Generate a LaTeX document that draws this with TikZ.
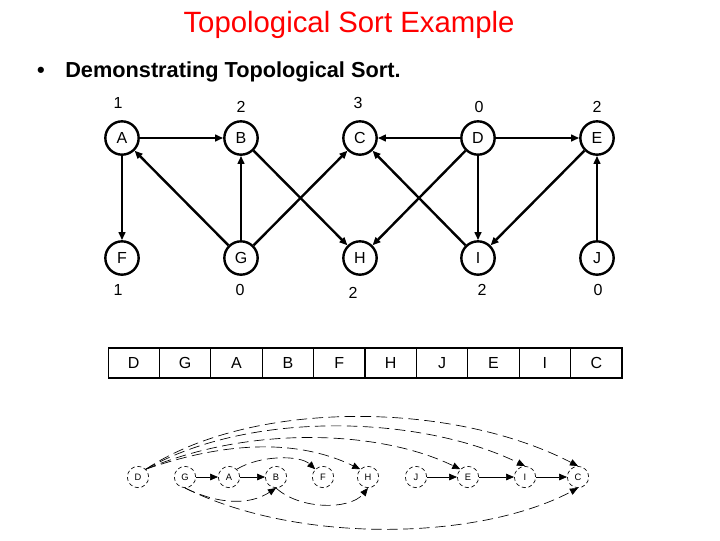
\documentclass[tikz,border=0pt]{standalone}
\usepackage{fontspec}
\setmainfont{Liberation Sans}
\usetikzlibrary{arrows.meta}
\begin{document}
\begin{tikzpicture}[x=0.75pt,y=-0.75pt,
  gn/.style={circle,draw,line width=1.8pt,minimum size=25pt,inner sep=0pt,font=\fontsize{12}{14}\selectfont},
  ge/.style={-{Triangle[length=6pt,width=5pt]},line width=1.8pt},
  lab/.style={font=\fontsize{12}{14}\selectfont},
  cell/.style={draw,line width=0.8pt,minimum width=38.5pt,minimum height=22.5pt,inner sep=0pt,font=\fontsize{12}{14}\selectfont},
  sn/.style={circle,draw,densely dashed,line width=0.5pt,minimum size=16pt,inner sep=0pt,font=\fontsize{7}{8}\selectfont},
  se/.style={-{Triangle[length=6pt,width=5pt]},line width=0.5pt,dash pattern=on 8pt off 4pt}]
\useasboundingbox (0,0) rectangle (720,540);
\node[text=red,font=\fontsize{22}{26}\selectfont] (title) at (349,25) {Topological Sort Example};
\node[font=\bfseries\fontsize{16.3}{18}\selectfont] (bul) at (41,72) {•};
\node[anchor=west,inner sep=0pt,font=\bfseries\fontsize{16.3}{18}\selectfont] (btxt) at (65,72) {Demonstrating Topological Sort.};
\foreach \n/\x/\y in {A/122/138,B/241/138,C/360/138,D/478/138,E/597/138,F/122/258,G/241/258,H/360/258,I/478/258,J/597/258}
  \node[gn] (\n) at (\x,\y) {\n};
\foreach \t/\x/\y [count=\i] in {1/118/103,2/241/107,3/358/103,0/479/107,2/597/107,1/118/290,0/240/290,2/353/293,2/482/290,0/598/290}
  \node[lab] (l\i) at (\x,\y) {\t};
\draw[ge] (A)--(B); \draw[ge] (D)--(C); \draw[ge] (D)--(E);
\draw[ge] (A)--(F); \draw[ge] (G)--(A); \draw[ge] (G)--(B);
\draw[ge] (G)--(C); \draw[ge] (B)--(H); \draw[ge] (D)--(H);
\draw[ge] (I)--(C); \draw[ge] (D)--(I); \draw[ge] (E)--(I); \draw[ge] (J)--(E);
\foreach \t [count=\i] in {D,G,A,B,F,H,J,E,I,C}
  \node[cell] (c\i) at ({108+25.7+51.4*(\i-1)},363) {\t};
\foreach \n/\x in {D/138,G/185,A/229,B/276,F/323,H/368,J/416,E/468,I/525,C/578}
  \node[sn] (s\n) at (\x,477) {\n};
\draw[se,solid] (sG)--(sA); \draw[se,solid] (sA)--(sB); \draw[se,solid] (sJ)--(sE);
\draw[se,solid] (sE)--(sI); \draw[se,solid] (sI)--(sC);
\draw[se] (sD.north east) .. controls (250,400) and (450,400) .. (sC.north);
\draw[se] (sD.north east) .. controls (250,410) and (420,415) .. (sI.north);
\draw[se] (sD.north east) .. controls (250,425) and (380,430) .. (sE.north west);
\draw[se] (sD.north east) .. controls (230,440) and (300,440) .. (sH.north west);
\draw[se] (sA.north east) .. controls (260,455) and (300,455) .. (sF.north west);
\draw[se] (sG.south) .. controls (220,505) and (250,505) .. (sB.south);
\draw[se] (sB.south) .. controls (300,510) and (350,510) .. (sH.south);
\draw[se] (sG.south) .. controls (300,545) and (480,540) .. (sC.south);
\end{tikzpicture}
\end{document}
